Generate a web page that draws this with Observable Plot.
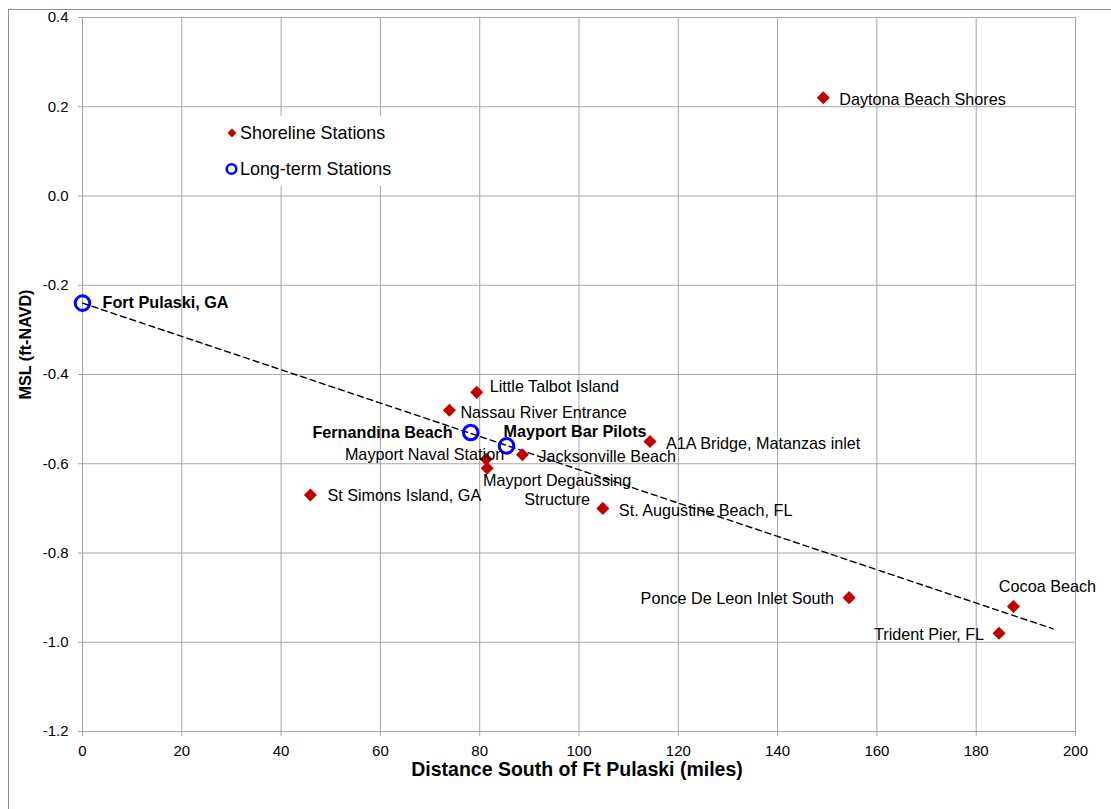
<!DOCTYPE html>
<html>
<head>
<meta charset="utf-8">
<script src="https://cdn.jsdelivr.net/npm/d3@7"></script>
<script src="https://cdn.jsdelivr.net/npm/@observablehq/plot@0.6"></script>
<style>
  body { margin: 0; background: #fff; font-family: "Liberation Sans", Arial, sans-serif; }
  #wrap { position: relative; width: 1111px; height: 809px; overflow: hidden; }
  #border { position: absolute; left: 8px; top: 9px; right: -4px; bottom: -4px;
            border-top: 1.5px solid #8c8c8c; border-left: 1.5px solid #8c8c8c; pointer-events: none; }
  #legend { position: absolute; left: 222px; top: 116px; width: 178px; height: 70px; background: #fff;
            font-size: 17.9px; color: #000; }
  #legend .item { position: absolute; left: 0; height: 20px; display: flex; align-items: center; white-space: nowrap; }
  #legend svg { display: block; }
</style>
</head>
<body>
<div id="wrap">
  <div id="chart"></div>
  <div id="legend">
    <div class="item" style="top:7px"><svg width="18" height="20"><path d="M10,5.5L14.5,10L10,14.5L5.5,10Z" fill="#c00000"/></svg><span>Shoreline Stations</span></div>
    <div class="item" style="top:43px"><svg width="18" height="20"><circle cx="9.5" cy="10" r="4.8" fill="none" stroke="#0000ff" stroke-width="2.6"/></svg><span>Long-term Stations</span></div>
  </div>
  <div id="border"></div>
</div>
<script>
// ---- Data ----
const shorelineNames = [
  "Daytona Beach Shores", "Little Talbot Island", "Nassau River Entrance",
  "A1A Bridge, Matanzas inlet", "Jacksonville Beach", "Mayport Naval Station",
  "Mayport Degaussing\nStructure", "St Simons Island, GA", "St. Augustine Beach, FL",
  "Ponce De Leon Inlet South", "Cocoa Beach", "Trident Pier, FL"
];
const shorelineMiles = [149.2, 79.4, 73.9, 114.3, 88.6, 81.3, 81.5, 45.9, 104.8, 154.4, 187.5, 184.6];
const shorelineMSL   = [0.22, -0.44, -0.48, -0.55, -0.58, -0.59, -0.61, -0.67, -0.70, -0.90, -0.92, -0.98];

const longTermNames = ["Fort Pulaski, GA", "Fernandina Beach", "Mayport Bar Pilots"];
const longTermMiles = [0, 78.2, 85.4];
const longTermMSL   = [-0.24, -0.53, -0.56];

const trendMiles = [0, 195.5];
const trendMSL   = [-0.24, -0.97];

const xTicks = [0, 20, 40, 60, 80, 100, 120, 140, 160, 180, 200];
const yTicks = [-1.2, -1.0, -0.8, -0.6, -0.4, -0.2, 0.0, 0.2, 0.4];

const xTitle = "Distance South of Ft Pulaski (miles)";
const yTitle = "MSL (ft-NAVD)";

// ---- Label placement (layout only) ----
const labelPlacement = {
  "Daytona Beach Shores":        ["start", 16, 1],
  "Little Talbot Island":        ["start", 13, -6],
  "Nassau River Entrance":       ["start", 11, 1.5],
  "A1A Bridge, Matanzas inlet":  ["start", 16, 1],
  "Jacksonville Beach":          ["start", 16, 1],
  "Mayport Naval Station":       ["end", 18, -5],
  "Mayport Degaussing\nStructure": ["middle", 70, 21],
  "St Simons Island, GA":        ["start", 17, 0],
  "St. Augustine Beach, FL":     ["start", 16, 1.5],
  "Ponce De Leon Inlet South":   ["end", -15, 0.5],
  "Cocoa Beach":                 ["middle", 34, -21],
  "Trident Pier, FL":            ["end", -15, 1],
  "Fort Pulaski, GA":            ["start", 20, 0],
  "Fernandina Beach":            ["end", -18, 0],
  "Mayport Bar Pilots":          ["start", -3, -14]
};

// ---- Tables ----
const shoreline = shorelineNames.map((n, i) => ({name: n, miles: shorelineMiles[i], msl: shorelineMSL[i]}));
const longTerm = longTermNames.map((n, i) => ({name: n, miles: longTermMiles[i], msl: longTermMSL[i]}));
const trend = trendMiles.map((m, i) => ({miles: m, msl: trendMSL[i]}));

const labelMarks = [];
for (const d of shoreline) {
  const [anchor, dx, dy] = labelPlacement[d.name];
  labelMarks.push(Plot.text([d], {x: "miles", y: "msl", text: "name", textAnchor: anchor, dx, dy,
    fontSize: 16.2, lineHeight: 1.17, fill: "#000"}));
}
for (const d of longTerm) {
  const [anchor, dx, dy] = labelPlacement[d.name];
  labelMarks.push(Plot.text([d], {x: "miles", y: "msl", text: "name", textAnchor: anchor, dx, dy,
    fontSize: 16.2, fontWeight: "bold", fill: "#000"}));
}

const chart = Plot.plot({
  width: 1111,
  height: 809,
  marginLeft: 82,
  marginRight: 36,
  marginTop: 17,
  marginBottom: 78,
  style: {fontFamily: "'Liberation Sans', Arial, sans-serif", fontSize: "15px", background: "#fff", overflow: "visible"},
  x: {domain: [0, 200]},
  y: {domain: [-1.2, 0.4]},
  marks: [
    Plot.gridX(xTicks, {stroke: "#a6a6a6", strokeOpacity: 1, strokeWidth: 1}),
    Plot.gridY(yTicks, {stroke: "#a6a6a6", strokeOpacity: 1, strokeWidth: 1}),
    Plot.axisX(xTicks, {tickSize: 5, tickPadding: 9, stroke: "#a6a6a6", fill: "#000", fontSize: 15, label: null, tickFormat: d => String(d)}),
    Plot.axisY(yTicks, {tickSize: 4, tickPadding: 10, stroke: "#a6a6a6", fill: "#000", fontSize: 15, label: null, tickFormat: d => d.toFixed(1)}),
    Plot.text([xTitle], {frameAnchor: "bottom", textAnchor: "middle", dx: -2, dy: 44, fontWeight: "bold", fontSize: 19.5, fill: "#000"}),
    Plot.text([yTitle], {frameAnchor: "left", textAnchor: "middle", dx: -57, dy: -30, rotate: -90, fontWeight: "bold", fontSize: 16.2, fill: "#000"}),
    Plot.line(trend, {x: "miles", y: "msl", stroke: "#000", strokeWidth: 1.4, strokeDasharray: "6,4"}),
    Plot.dot(shoreline, {x: "miles", y: "msl", symbol: "diamond2", r: 5.9, fill: "#c00000", stroke: "none"}),
    Plot.dot(longTerm, {x: "miles", y: "msl", symbol: "circle", r: 7.3, fill: "none", stroke: "#0000ff", strokeWidth: 3}),
    ...labelMarks
  ]
});
document.getElementById("chart").appendChild(chart);
</script>
</body>
</html>
